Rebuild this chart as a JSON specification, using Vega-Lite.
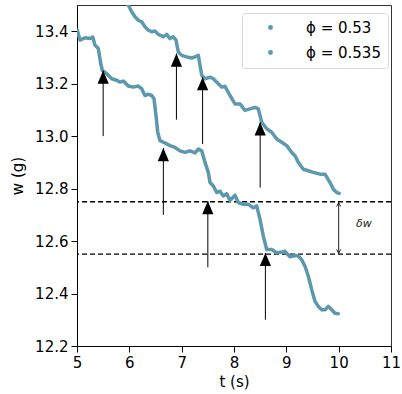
{
  "$schema": "https://vega.github.io/schema/vega-lite/v6.json",
  "width": 314,
  "height": 341,
  "autosize": "none",
  "padding": {"left": 77, "top": 5, "right": 11, "bottom": 48},
  "background": "white",
  "config": {
    "view": {"stroke": "#333", "strokeWidth": 1},
    "axis": {
      "labelFont": "DejaVu Sans", "labelFontSize": 15, "labelColor": "black",
      "titleFont": "DejaVu Sans", "titleFontSize": 15, "titleFontWeight": "normal", "titleColor": "black",
      "tickColor": "black", "domainColor": "black", "tickSize": 6, "tickWidth": 1, "grid": false,
      "labelFlush": false, "labelOverlap": false, "labelPadding": 3
    }
  },
  "datasets": {
    "lines": [
      {"phi": "ϕ = 0.53", "t": 5.006, "w": 13.404},
      {"phi": "ϕ = 0.53", "t": 5.057, "w": 13.366},
      {"phi": "ϕ = 0.53", "t": 5.153, "w": 13.375},
      {"phi": "ϕ = 0.53", "t": 5.248, "w": 13.372},
      {"phi": "ϕ = 0.53", "t": 5.300, "w": 13.378},
      {"phi": "ϕ = 0.53", "t": 5.344, "w": 13.347},
      {"phi": "ϕ = 0.53", "t": 5.407, "w": 13.334},
      {"phi": "ϕ = 0.53", "t": 5.453, "w": 13.277},
      {"phi": "ϕ = 0.53", "t": 5.484, "w": 13.251},
      {"phi": "ϕ = 0.53", "t": 5.568, "w": 13.238},
      {"phi": "ϕ = 0.53", "t": 5.663, "w": 13.219},
      {"phi": "ϕ = 0.53", "t": 5.759, "w": 13.213},
      {"phi": "ϕ = 0.53", "t": 5.822, "w": 13.206},
      {"phi": "ϕ = 0.53", "t": 5.885, "w": 13.210},
      {"phi": "ϕ = 0.53", "t": 5.980, "w": 13.191},
      {"phi": "ϕ = 0.53", "t": 6.076, "w": 13.187},
      {"phi": "ϕ = 0.53", "t": 6.171, "w": 13.191},
      {"phi": "ϕ = 0.53", "t": 6.236, "w": 13.181},
      {"phi": "ϕ = 0.53", "t": 6.299, "w": 13.155},
      {"phi": "ϕ = 0.53", "t": 6.363, "w": 13.160},
      {"phi": "ϕ = 0.53", "t": 6.427, "w": 13.155},
      {"phi": "ϕ = 0.53", "t": 6.471, "w": 13.143},
      {"phi": "ϕ = 0.53", "t": 6.510, "w": 13.079},
      {"phi": "ϕ = 0.53", "t": 6.542, "w": 13.015},
      {"phi": "ϕ = 0.53", "t": 6.586, "w": 12.983},
      {"phi": "ϕ = 0.53", "t": 6.682, "w": 12.974},
      {"phi": "ϕ = 0.53", "t": 6.777, "w": 12.964},
      {"phi": "ϕ = 0.53", "t": 6.873, "w": 12.957},
      {"phi": "ϕ = 0.53", "t": 6.968, "w": 12.944},
      {"phi": "ϕ = 0.53", "t": 7.064, "w": 12.938},
      {"phi": "ϕ = 0.53", "t": 7.159, "w": 12.944},
      {"phi": "ϕ = 0.53", "t": 7.255, "w": 12.936},
      {"phi": "ϕ = 0.53", "t": 7.318, "w": 12.951},
      {"phi": "ϕ = 0.53", "t": 7.383, "w": 12.944},
      {"phi": "ϕ = 0.53", "t": 7.446, "w": 12.900},
      {"phi": "ϕ = 0.53", "t": 7.509, "w": 12.862},
      {"phi": "ϕ = 0.53", "t": 7.542, "w": 12.823},
      {"phi": "ϕ = 0.53", "t": 7.605, "w": 12.810},
      {"phi": "ϕ = 0.53", "t": 7.670, "w": 12.785},
      {"phi": "ϕ = 0.53", "t": 7.733, "w": 12.790},
      {"phi": "ϕ = 0.53", "t": 7.796, "w": 12.772},
      {"phi": "ϕ = 0.53", "t": 7.861, "w": 12.780},
      {"phi": "ϕ = 0.53", "t": 7.924, "w": 12.755},
      {"phi": "ϕ = 0.53", "t": 8.019, "w": 12.775},
      {"phi": "ϕ = 0.53", "t": 8.082, "w": 12.747},
      {"phi": "ϕ = 0.53", "t": 8.178, "w": 12.740},
      {"phi": "ϕ = 0.53", "t": 8.273, "w": 12.740},
      {"phi": "ϕ = 0.53", "t": 8.369, "w": 12.727},
      {"phi": "ϕ = 0.53", "t": 8.434, "w": 12.734},
      {"phi": "ϕ = 0.53", "t": 8.497, "w": 12.683},
      {"phi": "ϕ = 0.53", "t": 8.560, "w": 12.619},
      {"phi": "ϕ = 0.53", "t": 8.625, "w": 12.568},
      {"phi": "ϕ = 0.53", "t": 8.721, "w": 12.568},
      {"phi": "ϕ = 0.53", "t": 8.816, "w": 12.555},
      {"phi": "ϕ = 0.53", "t": 8.912, "w": 12.558},
      {"phi": "ϕ = 0.53", "t": 8.975, "w": 12.561},
      {"phi": "ϕ = 0.53", "t": 9.070, "w": 12.540},
      {"phi": "ϕ = 0.53", "t": 9.166, "w": 12.545},
      {"phi": "ϕ = 0.53", "t": 9.229, "w": 12.543},
      {"phi": "ϕ = 0.53", "t": 9.294, "w": 12.529},
      {"phi": "ϕ = 0.53", "t": 9.357, "w": 12.504},
      {"phi": "ϕ = 0.53", "t": 9.420, "w": 12.466},
      {"phi": "ϕ = 0.53", "t": 9.485, "w": 12.415},
      {"phi": "ϕ = 0.53", "t": 9.548, "w": 12.370},
      {"phi": "ϕ = 0.53", "t": 9.611, "w": 12.351},
      {"phi": "ϕ = 0.53", "t": 9.676, "w": 12.338},
      {"phi": "ϕ = 0.53", "t": 9.739, "w": 12.338},
      {"phi": "ϕ = 0.53", "t": 9.802, "w": 12.351},
      {"phi": "ϕ = 0.53", "t": 9.867, "w": 12.338},
      {"phi": "ϕ = 0.53", "t": 9.930, "w": 12.325},
      {"phi": "ϕ = 0.53", "t": 9.993, "w": 12.323},

      {"phi": "ϕ = 0.535", "t": 5.885, "w": 13.520},
      {"phi": "ϕ = 0.535", "t": 5.980, "w": 13.500},
      {"phi": "ϕ = 0.535", "t": 6.045, "w": 13.474},
      {"phi": "ϕ = 0.535", "t": 6.108, "w": 13.455},
      {"phi": "ϕ = 0.535", "t": 6.171, "w": 13.442},
      {"phi": "ϕ = 0.535", "t": 6.236, "w": 13.436},
      {"phi": "ϕ = 0.535", "t": 6.299, "w": 13.417},
      {"phi": "ϕ = 0.535", "t": 6.363, "w": 13.404},
      {"phi": "ϕ = 0.535", "t": 6.427, "w": 13.398},
      {"phi": "ϕ = 0.535", "t": 6.490, "w": 13.401},
      {"phi": "ϕ = 0.535", "t": 6.554, "w": 13.388},
      {"phi": "ϕ = 0.535", "t": 6.649, "w": 13.379},
      {"phi": "ϕ = 0.535", "t": 6.714, "w": 13.388},
      {"phi": "ϕ = 0.535", "t": 6.777, "w": 13.372},
      {"phi": "ϕ = 0.535", "t": 6.840, "w": 13.379},
      {"phi": "ϕ = 0.535", "t": 6.892, "w": 13.366},
      {"phi": "ϕ = 0.535", "t": 6.936, "w": 13.321},
      {"phi": "ϕ = 0.535", "t": 7.001, "w": 13.308},
      {"phi": "ϕ = 0.535", "t": 7.096, "w": 13.302},
      {"phi": "ϕ = 0.535", "t": 7.192, "w": 13.298},
      {"phi": "ϕ = 0.535", "t": 7.255, "w": 13.302},
      {"phi": "ϕ = 0.535", "t": 7.318, "w": 13.308},
      {"phi": "ϕ = 0.535", "t": 7.383, "w": 13.232},
      {"phi": "ϕ = 0.535", "t": 7.446, "w": 13.219},
      {"phi": "ϕ = 0.535", "t": 7.542, "w": 13.225},
      {"phi": "ϕ = 0.535", "t": 7.605, "w": 13.219},
      {"phi": "ϕ = 0.535", "t": 7.700, "w": 13.200},
      {"phi": "ϕ = 0.535", "t": 7.765, "w": 13.187},
      {"phi": "ϕ = 0.535", "t": 7.828, "w": 13.190},
      {"phi": "ϕ = 0.535", "t": 7.924, "w": 13.155},
      {"phi": "ϕ = 0.535", "t": 8.019, "w": 13.123},
      {"phi": "ϕ = 0.535", "t": 8.115, "w": 13.123},
      {"phi": "ϕ = 0.535", "t": 8.210, "w": 13.098},
      {"phi": "ϕ = 0.535", "t": 8.306, "w": 13.104},
      {"phi": "ϕ = 0.535", "t": 8.401, "w": 13.110},
      {"phi": "ϕ = 0.535", "t": 8.465, "w": 13.104},
      {"phi": "ϕ = 0.535", "t": 8.529, "w": 13.053},
      {"phi": "ϕ = 0.535", "t": 8.625, "w": 13.028},
      {"phi": "ϕ = 0.535", "t": 8.721, "w": 13.015},
      {"phi": "ϕ = 0.535", "t": 8.816, "w": 12.989},
      {"phi": "ϕ = 0.535", "t": 8.912, "w": 12.977},
      {"phi": "ϕ = 0.535", "t": 9.007, "w": 12.964},
      {"phi": "ϕ = 0.535", "t": 9.103, "w": 12.938},
      {"phi": "ϕ = 0.535", "t": 9.166, "w": 12.925},
      {"phi": "ϕ = 0.535", "t": 9.229, "w": 12.900},
      {"phi": "ϕ = 0.535", "t": 9.324, "w": 12.874},
      {"phi": "ϕ = 0.535", "t": 9.420, "w": 12.868},
      {"phi": "ϕ = 0.535", "t": 9.516, "w": 12.862},
      {"phi": "ϕ = 0.535", "t": 9.643, "w": 12.855},
      {"phi": "ϕ = 0.535", "t": 9.739, "w": 12.855},
      {"phi": "ϕ = 0.535", "t": 9.835, "w": 12.823},
      {"phi": "ϕ = 0.535", "t": 9.898, "w": 12.798},
      {"phi": "ϕ = 0.535", "t": 9.963, "w": 12.785},
      {"phi": "ϕ = 0.535", "t": 10.010, "w": 12.782}
    ],
    "arrows": [
      {"t": 5.5, "tail": 13.0, "tip": 13.25},
      {"t": 6.9, "tail": 13.063, "tip": 13.315},
      {"t": 7.4, "tail": 12.97, "tip": 13.225},
      {"t": 6.65, "tail": 12.70, "tip": 12.955},
      {"t": 7.5, "tail": 12.5, "tip": 12.753},
      {"t": 8.6, "tail": 12.3, "tip": 12.555},
      {"t": 8.5, "tail": 12.804, "tip": 13.053}
    ],
    "levels": [{"w": 12.75}, {"w": 12.55}],
    "dw": [{"t": 10.0, "top": 12.747, "bottom": 12.553, "mid": 12.664, "lt": 10.33, "label": "δw"}]
  },
  "layer": [
    {
      "data": {"name": "levels"},
      "mark": {"type": "rule", "color": "black", "strokeWidth": 1.3, "strokeDash": [5, 3]},
      "encoding": {"y": {"field": "w", "type": "quantitative", "scale": {"domain": [12.2, 13.5]}}}
    },
    {
      "data": {"name": "lines"},
      "mark": {"type": "line", "strokeWidth": 3.5, "clip": true, "strokeCap": "round", "strokeJoin": "round"},
      "encoding": {
        "x": {"field": "t", "type": "quantitative", "scale": {"domain": [5, 11], "nice": false, "zero": false},
              "axis": {"values": [5, 6, 7, 8, 9, 10, 11], "title": "t (s)", "titlePadding": 4}},
        "y": {"field": "w", "type": "quantitative", "scale": {"domain": [12.2, 13.5], "nice": false, "zero": false},
              "axis": {"values": [12.2, 12.4, 12.6, 12.8, 13.0, 13.2, 13.4], "format": ".1f", "title": "w (g)", "titlePadding": 9}},
        "color": {"field": "phi", "type": "nominal",
          "scale": {"domain": ["ϕ = 0.53", "ϕ = 0.535"], "range": ["#5b98ad", "#5d9aaf"]},
          "legend": {
            "title": null, "orient": "none", "legendX": 165, "legendY": 8,
            "symbolType": "circle", "symbolSize": 6, "symbolStrokeWidth": 2.5, "symbolOffset": 14,
            "labelFont": "DejaVu Sans", "labelFontSize": 15, "labelColor": "black", "labelOffset": 28,
            "rowPadding": 9, "padding": 7,
            "fillColor": "white", "strokeColor": "#d8d8d8", "cornerRadius": 3
          }
        }
      }
    },
    {
      "data": {"name": "arrows"},
      "mark": {"type": "rule", "color": "black", "strokeWidth": 1},
      "encoding": {
        "x": {"field": "t", "type": "quantitative"},
        "y": {"field": "tail", "type": "quantitative"},
        "y2": {"field": "tip"}
      }
    },
    {
      "data": {"name": "arrows"},
      "mark": {"type": "point", "shape": "M0,0L0.85,2L-0.85,2Z", "filled": true, "color": "black", "opacity": 1, "size": 175, "strokeWidth": 0},
      "encoding": {
        "x": {"field": "t", "type": "quantitative"},
        "y": {"field": "tip", "type": "quantitative"}
      }
    },
    {
      "data": {"name": "dw"},
      "mark": {"type": "rule", "color": "#222", "strokeWidth": 1},
      "encoding": {
        "x": {"field": "t", "type": "quantitative"},
        "y": {"field": "bottom", "type": "quantitative"},
        "y2": {"field": "top"}
      }
    },
    {
      "data": {"name": "dw"},
      "mark": {"type": "point", "shape": "M-1,2L0,0L1,2", "filled": false, "color": "#222", "opacity": 1, "size": 16, "strokeWidth": 1},
      "encoding": {
        "x": {"field": "t", "type": "quantitative"},
        "y": {"field": "top", "type": "quantitative"}
      }
    },
    {
      "data": {"name": "dw"},
      "mark": {"type": "point", "shape": "M-1,-2L0,0L1,-2", "filled": false, "color": "#222", "opacity": 1, "size": 16, "strokeWidth": 1},
      "encoding": {
        "x": {"field": "t", "type": "quantitative"},
        "y": {"field": "bottom", "type": "quantitative"}
      }
    },
    {
      "data": {"name": "dw"},
      "mark": {"type": "text", "font": "DejaVu Sans", "fontSize": 11, "fontStyle": "italic", "color": "#222", "align": "left", "baseline": "middle"},
      "encoding": {
        "x": {"field": "lt", "type": "quantitative"},
        "y": {"field": "mid", "type": "quantitative"},
        "text": {"field": "label"}
      }
    }
  ]
}
